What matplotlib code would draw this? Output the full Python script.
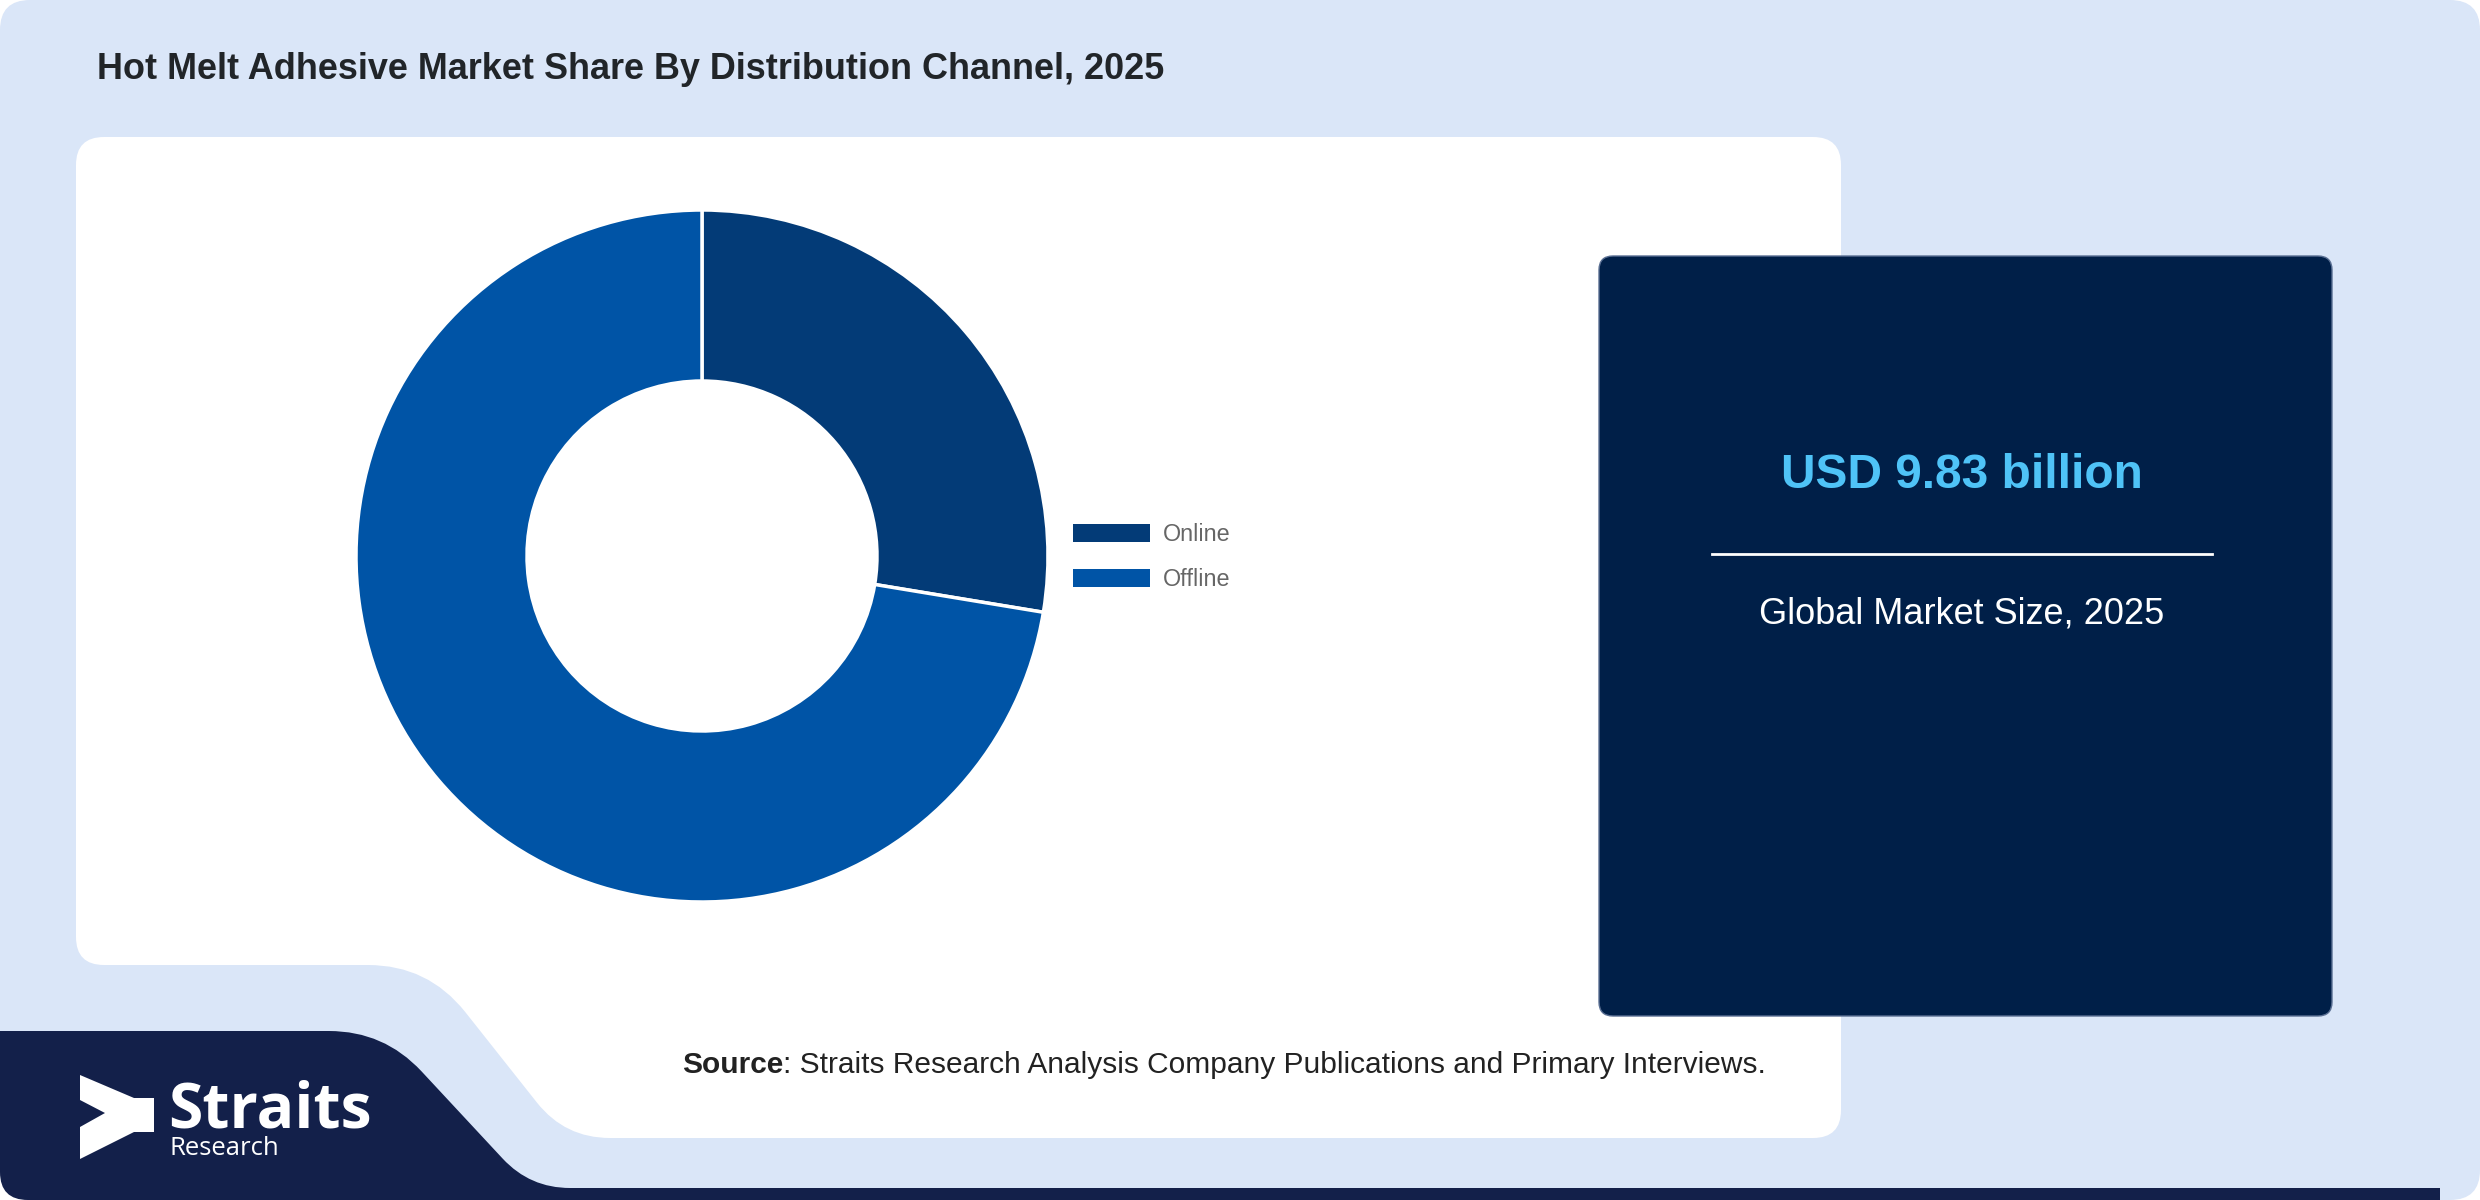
import numpy as np
import matplotlib.pyplot as plt
from matplotlib.path import Path
from matplotlib.patches import PathPatch, FancyBboxPatch

# data
channels = ['Online', 'Offline']
shares = [27.6, 72.4]
slice_colors = ['#033b77', '#0054a6']
title = 'Hot Melt Adhesive Market Share By Distribution Channel, 2025'
market_value = 'USD 9.83 billion'
market_label = 'Global Market Size, 2025'
source_rest = ': Straits Research Analysis Company Publications and Primary Interviews.'

W, H = 2480, 1200
plt.rcParams['font.family'] = ['Liberation Sans', 'DejaVu Sans']

fig = plt.figure(figsize=(W / 100, H / 100), dpi=100)
fig.patch.set_facecolor('white')
bg = fig.add_axes([0, 0, 1, 1])
bg.set_xlim(0, W)
bg.set_ylim(H, 0)
bg.axis('off')


def rounded_poly(pts, radii):
    # polygon with each corner softened by a quadratic curve
    pts = np.asarray(pts, float)
    n = len(pts)
    verts, codes = [], []
    for i in range(n):
        p = pts[i]
        a = pts[i - 1]
        b = pts[(i + 1) % n]
        r = radii[i]
        if r <= 0:
            verts.append(p)
            codes.append(Path.MOVETO if i == 0 else Path.LINETO)
            continue
        p1 = p + r * (a - p) / np.linalg.norm(a - p)
        p2 = p + r * (b - p) / np.linalg.norm(b - p)
        verts += [p1, p, p2]
        codes += [Path.MOVETO if i == 0 else Path.LINETO, Path.CURVE3, Path.CURVE3]
    verts.append(verts[0])
    codes.append(Path.CLOSEPOLY)
    return Path(verts, codes)


# light blue card
bg.add_patch(FancyBboxPatch((0, 0), W, H, boxstyle='round,pad=0,rounding_size=30',
                            fc='#dae6f8', ec='none'))

# dark footer with bottom strip
footer = [(0, 1031), (384, 1031), (530, 1188), (2440, 1188), (2440, 1200), (0, 1200)]
bg.add_patch(PathPatch(rounded_poly(footer, [0, 55, 40, 0, 0, 28]), fc='#13204a', ec='none'))

# white panel with notch
panel = [(76, 137), (1841, 137), (1841, 1138), (565, 1138), (428, 965), (76, 965)]
bg.add_patch(PathPatch(rounded_poly(panel, [28, 28, 28, 45, 60, 28]), fc='white', ec='none'))

# navy info box
bg.add_patch(FancyBboxPatch((1599, 256), 733, 760, boxstyle='round,pad=0,rounding_size=14',
                            fc='#001f48', ec='#5a6f93', lw=1))
bg.text(1962, 476, market_value, color='#4fc3f7', fontsize=34.5, fontweight='bold',
        ha='center', va='center')
bg.plot([1712, 2212], [554, 554], color='white', lw=2)
bg.text(1962, 623, market_label, color='white', fontsize=26, ha='center', va='baseline')

# title
bg.text(97, 79, title, color='#212529', fontsize=25.9, fontweight='bold', va='baseline')

# source line
r = fig.canvas.get_renderer()
src = bg.text(682, 1073, 'Source', color='#222222', fontsize=21.5, fontweight='bold', va='baseline')
bb = src.get_window_extent(renderer=r)
bg.text(bb.x1, 1073, source_rest, color='#222222', fontsize=21.5, va='baseline')

# logo
chevron = [(80, 1075), (134, 1098), (154, 1098), (154, 1132), (134, 1132),
           (80, 1159), (80, 1127), (105, 1113), (80, 1100)]
bg.add_patch(plt.Polygon(chevron, closed=True, fc='white', ec='none'))
bg.text(168, 1127, 'Straits', color='white', fontsize=45, fontweight='bold',
        family='Open Sans', va='baseline')
bg.text(170, 1155, 'Research', color='white', fontsize=18.5, family='Open Sans', va='baseline')

# donut
cx, cy, R, r_in = 702, 556, 346, 175
pie_ax = fig.add_axes([(cx - R) / W, (H - cy - R) / H, 2 * R / W, 2 * R / H])
wedges, _ = pie_ax.pie(shares, colors=slice_colors, startangle=90, counterclock=False,
                       radius=1, wedgeprops=dict(width=1 - r_in / R, edgecolor='white', linewidth=2.5))
pie_ax.set_xlim(-1, 1)
pie_ax.set_ylim(-1, 1)
pie_ax.axis('off')

leg = fig.legend(wedges, channels, loc='upper left', bbox_to_anchor=(1073 / W, 1 - 523 / H),
                 frameon=False, fontsize=16.8, handlelength=3.3, handleheight=0.86,
                 handletextpad=0.55, labelspacing=0.95, borderpad=0, borderaxespad=0)
for t in leg.get_texts():
    t.set_color('#666666')
for h in leg.legend_handles:
    h.set_edgecolor('none')

fig.savefig('out.png', dpi=100, facecolor=fig.get_facecolor())
